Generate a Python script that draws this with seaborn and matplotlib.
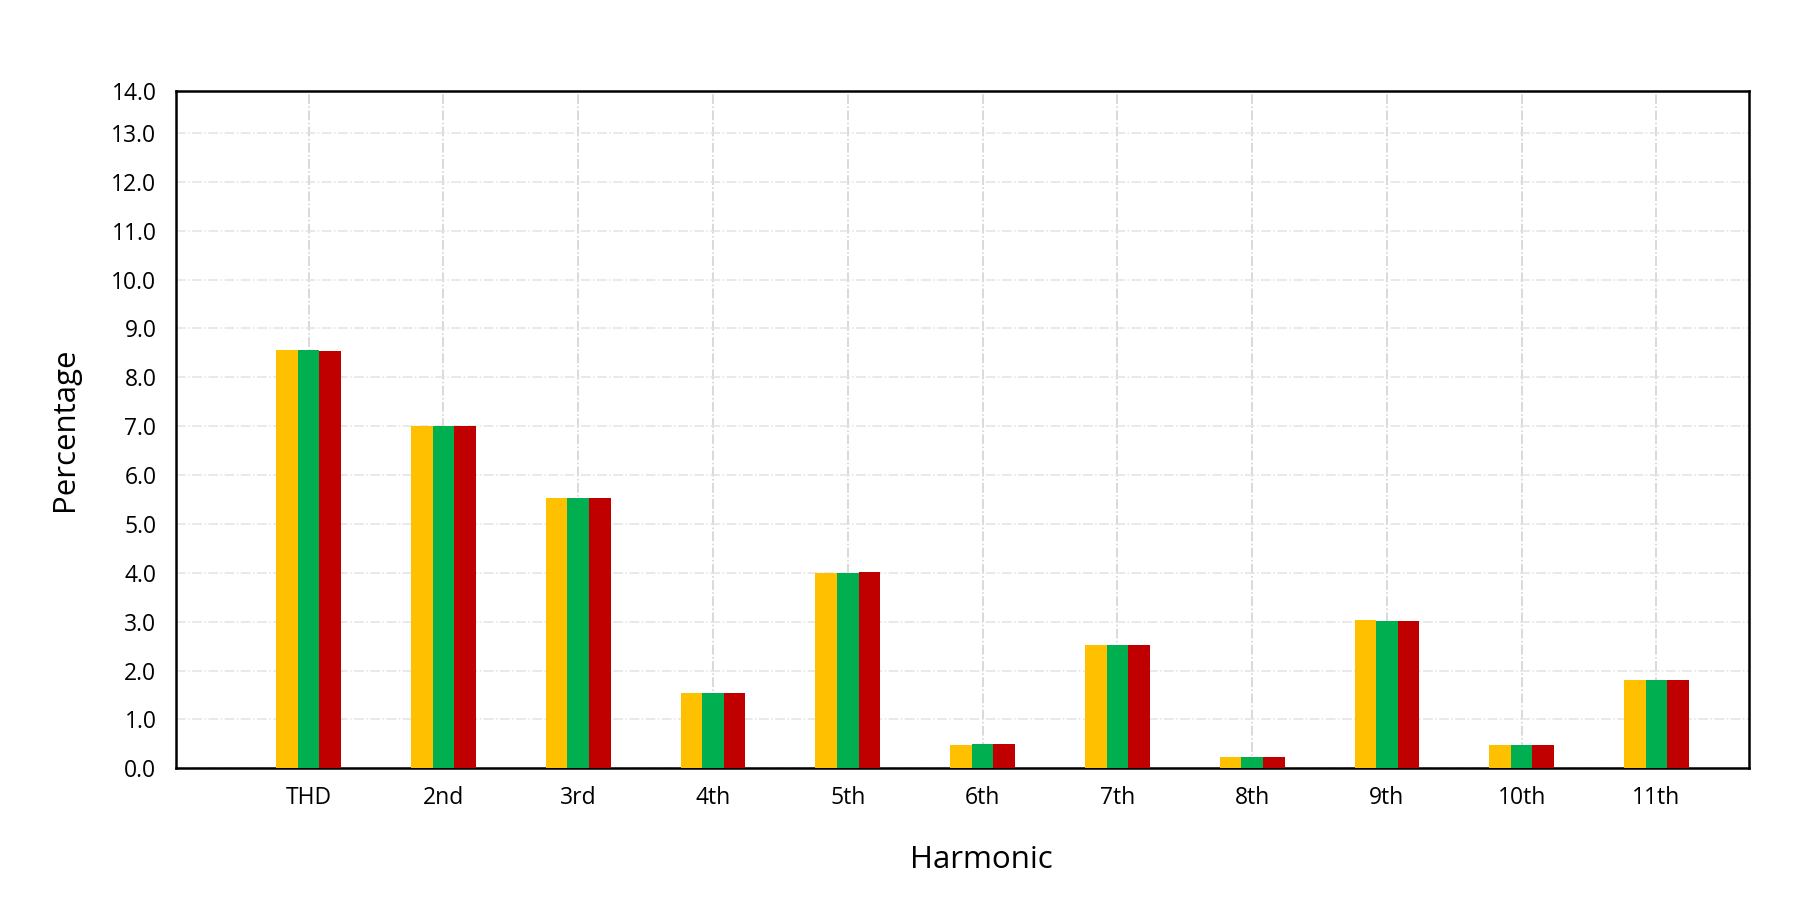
import numpy as np
import pandas as pd
import matplotlib
matplotlib.use("Agg")
import matplotlib.pyplot as plt
import seaborn as sns

# data
harmonics = ["THD", "2nd", "3rd", "4th", "5th", "6th", "7th", "8th", "9th", "10th", "11th"]
series_names = ["Series 1", "Series 2", "Series 3"]
series_1 = [8.56, 7.00, 5.53, 1.54, 4.00, 0.47, 2.53, 0.24, 3.04, 0.47, 1.80]
series_2 = [8.56, 7.00, 5.53, 1.54, 4.00, 0.49, 2.53, 0.24, 3.02, 0.47, 1.80]
series_3 = [8.53, 7.00, 5.53, 1.54, 4.02, 0.49, 2.53, 0.24, 3.02, 0.47, 1.80]
colors = ["#FFC000", "#00B050", "#C00000"]

ytick_vals = list(range(0, 14))
ytick_labels = [f"{v:.1f}" for v in range(0, 15)]

df = pd.DataFrame({
    "Harmonic": harmonics * 3,
    "Percentage": series_1 + series_2 + series_3,
    "series": np.repeat(series_names, len(harmonics)),
})

sns.set_style("white")
plt.rcParams["font.family"] = ["Open Sans", "DejaVu Sans"]
plt.rcParams["text.color"] = "black"
plt.rcParams["axes.labelcolor"] = "black"

fig = plt.figure(figsize=(18.1, 9.18), dpi=100)
ax = fig.add_axes([0.0972, 0.163, 0.869, 0.738])

sns.barplot(data=df, x="Harmonic", y="Percentage", hue="series",
            palette=colors, width=0.48, saturation=1, legend=False,
            linewidth=0, ax=ax, zorder=3)

ytop = 13.86
ax.set_ylim(0, ytop)
ax.set_xlim(-0.985, 10.685)
ax.set_yticks(ytick_vals + [ytop])
ax.set_yticklabels(ytick_labels)

# light dash-dot grid, vertical lines a bit darker
ax.yaxis.grid(True, color="#e3e3e3", linestyle="-.", linewidth=1.1)
ax.xaxis.grid(True, color="#cfcfcf", linestyle="-.", linewidth=1.1)
ax.set_axisbelow(True)

for s in ax.spines.values():
    s.set_visible(True)
    s.set_color("black")
    s.set_linewidth(1.8)

ax.tick_params(axis="both", length=0, labelsize=16.5, colors="black")
ax.tick_params(axis="x", pad=13)
ax.tick_params(axis="y", pad=14)

ax.set_xlabel("Harmonic", fontsize=22.5)
ax.set_ylabel("Percentage", fontsize=22.5)
ax.xaxis.set_label_coords(0.512, -0.113)
ax.yaxis.set_label_coords(-0.061, 0.5)

fig.savefig("out.png", dpi=100, facecolor="white")
